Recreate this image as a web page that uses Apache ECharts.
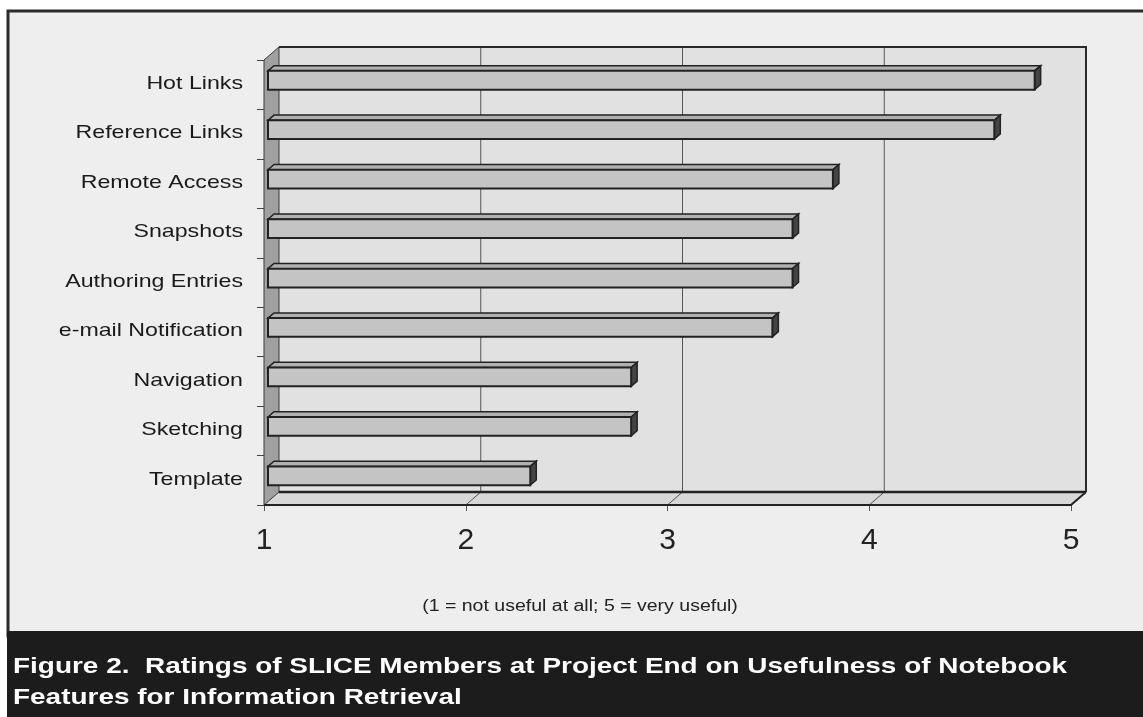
<!DOCTYPE html>
<html><head><meta charset="utf-8">
<script src="https://cdn.jsdelivr.net/npm/echarts@6/dist/echarts.min.js"></script>
<style>html,body{margin:0;padding:0;background:#fff;} #c{width:1143px;height:717px;}</style>
</head><body><div id="c"></div>
<script>
const categories = ['Hot Links','Reference Links','Remote Access','Snapshots','Authoring Entries','e-mail Notification','Navigation','Sketching','Template'];
const ratings = [4.8, 4.6, 3.8, 3.6, 3.6, 3.5, 2.8, 2.8, 2.3];
const xTicks = [1, 2, 3, 4, 5];
const scaleNote = '(1 = not useful at all; 5 = very useful)';
const captionText = 'Figure 2.  Ratings of SLICE Members at Project End on Usefulness of Notebook\nFeatures for Information Retrieval';

const DX = 15, DY = 13;   // wall depth offset (px)
const BD = 4;             // bar position depth
const BW = 6;             // bar thickness depth
const WIDE = 1.22;        // horizontal stretch of the scanned lettering
const FONT = '"Liberation Sans", Arial, sans-serif';

function wallRender(params, api) {
  const cs = params.coordSys;
  const x0 = cs.x, x1 = cs.x + cs.width, y0 = cs.y, y1 = cs.y + cs.height;
  const ch = [];
  ch.push({type:'rect', shape:{x:x0+DX, y:y0-DY, width:cs.width, height:cs.height}, style:{fill:'#e1e1e1'}});
  ch.push({type:'polygon', shape:{points:[[x0,y1],[x0+DX,y1-DY],[x1+DX,y1-DY],[x1,y1]]}, style:{fill:'#d8d8d8'}});
  ch.push({type:'polygon', shape:{points:[[x0,y0],[x0+DX,y0-DY],[x0+DX,y1-DY],[x0,y1]]}, style:{fill:'#a0a0a0', stroke:'#3a3a3a', lineWidth:1}});
  xTicks.slice(1, -1).forEach(t => {
    const px = api.coord([t, 0])[0];
    ch.push({type:'polyline', shape:{points:[[px+DX,y0-DY],[px+DX,y1-DY],[px,y1]]}, style:{stroke:'#555', lineWidth:1, fill:null}});
  });
  ch.push({type:'polyline', shape:{points:[[x0+DX,y0-DY],[x1+DX,y0-DY],[x1+DX,y1-DY]]}, style:{stroke:'#2a2a2a', lineWidth:2, fill:null}});
  ch.push({type:'polyline', shape:{points:[[x0+DX,y1-DY],[x1+DX,y1-DY]]}, style:{stroke:'#222', lineWidth:2.5, fill:null}});
  ch.push({type:'polyline', shape:{points:[[x0,y1],[x1,y1],[x1+DX,y1-DY]]}, style:{stroke:'#222', lineWidth:2, fill:null}});
  // category labels (stretched like the scanned original)
  categories.forEach((name, i) => {
    const p = api.coord([xTicks[0], i]);
    ch.push({type:'text', x: p[0] - 21, y: p[1] - 1, scaleX: WIDE,
      style:{text: name, fill:'#1a1a1a', font:'19px ' + FONT, textAlign:'right', textVerticalAlign:'middle'}});
  });
  return {type:'group', children: ch};
}

function barRender(params, api) {
  const v = api.value(0), c = api.value(1);
  const p0 = api.coord([xTicks[0], c]);
  const p1 = api.coord([v, c]);
  const bh = api.size([0, 1])[1] * 0.38;
  const xa = p0[0] + BD, xb = p1[0] + BD;
  const yc = p0[1] - BD * DY / DX - 1;
  const yt = yc - bh / 2, yb = yc + bh / 2;
  const ox = BW, oy = BW * DY / DX;
  return {type:'group', children:[
    {type:'polygon', shape:{points:[[xa,yt],[xa+ox,yt-oy],[xb+ox,yt-oy],[xb,yt]]}, style:{fill:'#b0b0b0', stroke:'#222', lineWidth:1.5}},
    {type:'polygon', shape:{points:[[xb,yt],[xb+ox,yt-oy],[xb+ox,yb-oy],[xb,yb]]}, style:{fill:'#444', stroke:'#222', lineWidth:1.5}},
    {type:'rect', shape:{x:xa, y:yt, width:xb-xa, height:bh}, style:{fill:'#c4c4c4', stroke:'#222', lineWidth:2}}
  ]};
}

const chart = echarts.init(document.getElementById('c'), null, {renderer:'canvas'});
chart.setOption({
  backgroundColor: '#ffffff',
  textStyle: {fontFamily: FONT},
  animation: false,
  graphic: [
    {type:'rect', z:-10, shape:{x:8, y:11, width:1150, height:625}, style:{fill:'#eeeeee', stroke:'#2b2b2b', lineWidth:3}},
    {type:'rect', z:-9, shape:{x:7, y:631, width:1150, height:90}, style:{fill:'#1c1c1c'}},
    {type:'text', z:5, x:13, y:651, scaleX:1.27, style:{text: captionText, fill:'#ffffff', font:'bold 22px ' + FONT, lineHeight:31}},
    {type:'text', z:5, x:580, y:599, scaleX:WIDE, originX:0, style:{text: scaleNote, fill:'#222', font:'16px ' + FONT, textAlign:'center'}}
  ],
  grid: {left: 264, right: 72, top: 60, bottom: 212, containLabel: false},
  xAxis: {
    type:'value', min: xTicks[0], max: xTicks[xTicks.length-1], interval: 1,
    splitLine:{show:false}, axisLine:{show:false},
    axisTick:{show:true, length:6, lineStyle:{color:'#555'}},
    axisLabel:{fontSize:30, color:'#222', margin:21, fontFamily: FONT}
  },
  yAxis: {
    type:'category', data: categories, inverse: true,
    axisLine:{show:false},
    axisTick:{show:true, length:7, lineStyle:{color:'#444'}},
    axisLabel:{show:false}
  },
  series: [
    {type:'custom', z:1, renderItem: wallRender, data:[[1, 0]], encode:{x:0, y:1}, silent:true},
    {type:'custom', z:3, renderItem: barRender, data: ratings.map((v, i) => [v, i]), encode:{x:0, y:1}}
  ]
});
</script>
</body></html>
